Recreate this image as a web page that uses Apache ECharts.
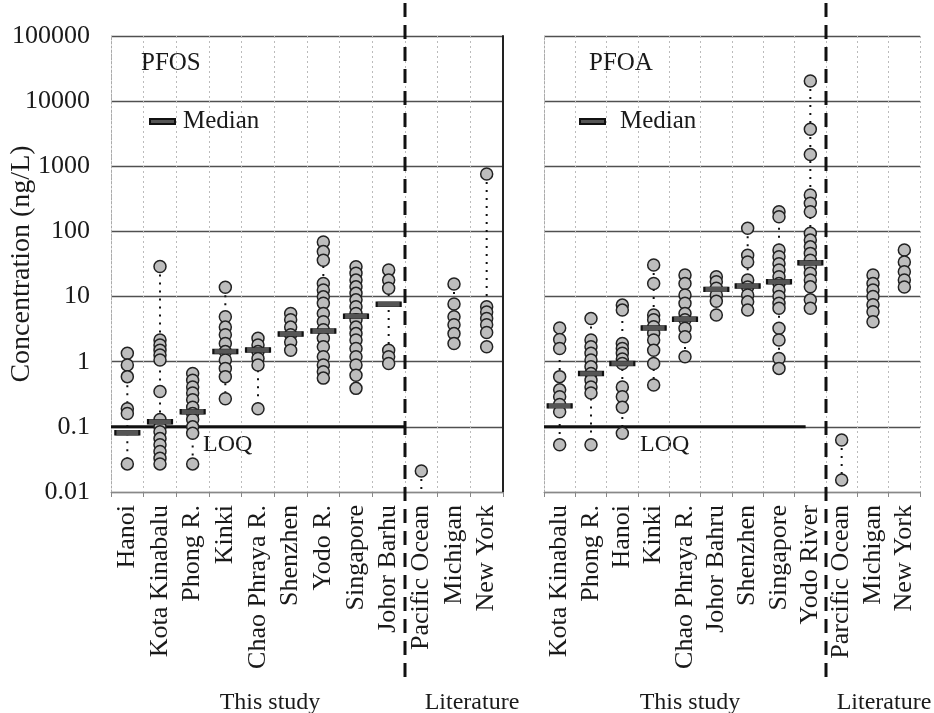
<!DOCTYPE html>
<html><head><meta charset="utf-8">
<script src="https://cdn.jsdelivr.net/npm/echarts@6/dist/echarts.min.js"></script>
<style>html,body{margin:0;padding:0;background:#fff}#c{width:934px;height:713px}</style>
</head><body><div id="c"></div>
<script>
// ---------- DATA ----------
const yTickLabels = ['0.01', '0.1', '1', '10', '100', '1000', '10000', '100000'];
const yMin = 0.01, yMax = 100000;
const LOQ = 0.1;

const pfosCategories = ['Hanoi', 'Kota Kinabalu', 'Phong R.', 'Kinki', 'Chao Phraya R.', 'Shenzhen',
  'Yodo R.', 'Singapore', 'Johor Barhu', 'Pacific Ocean', 'Michigan', 'New York'];
const pfosValues = [
  [1.35, 0.89, 0.59, 0.19, 0.16, 0.027],
  [29, 2.15, 1.8, 1.5, 1.27, 1.06, 0.35, 0.13, 0.1, 0.084, 0.066, 0.053, 0.042, 0.033, 0.027],
  [0.66, 0.52, 0.41, 0.33, 0.26, 0.2, 0.16, 0.13, 0.1, 0.08, 0.027],
  [13.9, 4.9, 3.4, 2.6, 1.9, 1.43, 1.06, 0.79, 0.59, 0.27],
  [2.3, 1.8, 1.43, 1.12, 0.89, 0.19],
  [5.5, 4.4, 3.4, 2.6, 2.0, 1.5],
  [69, 49, 36, 15.9, 12.6, 9.9, 7.9, 5.5, 4.1, 3.1, 2.3, 1.7, 1.19, 0.89, 0.7, 0.56],
  [28.7, 22.8, 17.9, 14.1, 11.2, 8.9, 7.0, 5.5, 4.4, 3.4, 2.7, 2.15, 1.6, 1.19, 0.89, 0.62, 0.39],
  [25.6, 17.9, 13.4, 1.5, 1.19, 0.94],
  [0.021],
  [15.6, 7.7, 4.9, 3.7, 2.7, 1.9],
  [760, 7.0, 5.8, 4.6, 3.7, 2.8, 1.7]
];
const pfosMedians = [0.081, 0.12, 0.17, 1.43, 1.51, 2.66, 2.96, 5.0, 7.6, null, null, null];
const pfosBelowAxis = ['Pacific Ocean'];   // range continues below 0.01

const pfoaCategories = ['Kota Kinabalu', 'Phong R.', 'Hanoi', 'Kinki', 'Chao Phraya R.', 'Johor Bahru',
  'Shenzhen', 'Singapore', 'Yodo River', 'Parcific Ocean', 'Michigan', 'New York'];
const pfoaValues = [
  [3.3, 2.2, 1.6, 0.59, 0.37, 0.29, 0.22, 0.17, 0.053],
  [4.6, 2.15, 1.7, 1.35, 1.06, 0.84, 0.66, 0.52, 0.41, 0.33, 0.053],
  [7.4, 6.2, 1.9, 1.6, 1.35, 1.1, 0.94, 0.41, 0.29, 0.2, 0.08],
  [30.5, 15.9, 5.2, 4.4, 3.45, 2.73, 2.15, 1.5, 0.94, 0.44],
  [21.5, 15.9, 10.6, 7.9, 5.5, 4.4, 3.26, 2.42, 1.19],
  [20.2, 16.9, 13.4, 10.6, 8.5, 5.2],
  [112, 43, 34, 18, 14, 10.6, 8.3, 6.2],
  [200, 168, 52, 41, 32, 25.6, 20.2, 15.9, 12.6, 10, 7.9, 6.6, 3.26, 2.15, 1.12, 0.79],
  [20400, 3700, 1520, 363, 270, 200, 94, 73.6, 58, 46, 36, 28.7, 22.8, 18, 14.1, 8.9, 6.6],
  [0.063, 0.0153],
  [21.5, 15.9, 12.6, 10, 7.5, 5.85, 4.1],
  [52, 34, 24, 18, 14]
];
const pfoaMedians = [0.21, 0.66, 0.94, 3.3, 4.5, 12.9, 14.5, 16.9, 33, null, null, null];
const pfoaBelowAxis = [];

const studyCount = 9; // first 9 categories = "This study"

// ---------- HELPERS ----------
const FONT = 'Liberation Serif';
function pts(vals) { const o = []; vals.forEach((a, i) => a.forEach(v => o.push([i, v]))); return o; }
function med(m) { return m.map((v, i) => v == null ? null : [i, v]).filter(Boolean); }
function ranges(vals, cats, below) {
  return vals.map((a, i) => [i, Math.max(...a), below.includes(cats[i]) ? yMin : Math.min(...a)])
    .filter(r => r[1] !== r[2]);
}
function yLabel(v) { return yTickLabels[Math.round(Math.log10(v)) + 2]; }

const rangeRender = (params, api) => {
  const a = api.coord([api.value(0), api.value(1)]);
  const b = api.coord([api.value(0), api.value(2)]);
  return { type: 'line', shape: { x1: a[0], y1: a[1], x2: b[0], y2: b[1] },
    style: { stroke: '#111', lineWidth: 2, lineDash: [2, 6] } };
};
function loqRender(endFrac) {
  return (params, api) => {
    const bw = api.size([1, 1])[0];
    const a = api.coord([api.value(0), api.value(2)]);
    const b = api.coord([api.value(1), api.value(2)]);
    return { type: 'line', shape: { x1: a[0] - bw / 2, y1: a[1], x2: b[0] + bw * endFrac, y2: b[1] },
      style: { stroke: '#111', lineWidth: 3 } };
  };
}
function sepRender(extraBottom) {
  return (params, api) => {
    const bw = api.size([1, 1])[0];
    const c = api.coord([api.value(0), 1]);
    const cs = params.coordSys;
    const x = c[0] + bw / 2;
    return { type: 'line', shape: { x1: x, y1: cs.y - 33, x2: x, y2: cs.y + cs.height + extraBottom },
      style: { stroke: '#111', lineWidth: 3, lineDash: [14, 8] } };
  };
}

function xAxisCfg(gi, cats) {
  return {
    type: 'category', gridIndex: gi, data: cats, boundaryGap: true,
    axisLine: { lineStyle: { color: '#888' } },
    axisTick: { show: true, interval: 0, length: 5, lineStyle: { color: '#888' } },
    axisLabel: { interval: 0, rotate: 90, margin: 13, fontFamily: FONT, fontSize: 26, color: '#1a1a1a' },
    splitLine: { show: true, interval: 0, lineStyle: { color: '#bbb', type: [2, 3], width: 1 } }
  };
}
function yAxisCfg(gi, showLabels) {
  return {
    type: 'log', logBase: 10, gridIndex: gi, min: yMin, max: yMax,
    name: showLabels ? 'Concentration (ng/L)' : '', nameLocation: 'middle', nameGap: 75,
    nameMoveOverlap: false,
    nameTextStyle: { fontFamily: FONT, fontSize: 28, color: '#1a1a1a' },
    axisLine: { show: true, lineStyle: { color: '#aaa', type: [2, 2] } },
    axisTick: { show: false },
    axisLabel: { show: showLabels, formatter: yLabel, margin: 21, fontFamily: FONT, fontSize: 26, color: '#1a1a1a' },
    splitLine: { show: true, lineStyle: { color: '#505050', width: 1.3 } }
  };
}
function panelSeries(gi, cats, vals, meds, below, loqEndFrac, sepBottom) {
  return [
    { type: 'custom', name: 'range' + gi, xAxisIndex: gi, yAxisIndex: gi, z: 1,
      data: ranges(vals, cats, below), renderItem: rangeRender, encode: { x: 0, y: [1, 2] } },
    { type: 'custom', name: 'LOQ' + gi, xAxisIndex: gi, yAxisIndex: gi, z: 2,
      data: [[0, studyCount - 1, LOQ]], renderItem: loqRender(loqEndFrac), encode: { x: [0, 1], y: 2 } },
    { type: 'scatter', name: 'points' + gi, xAxisIndex: gi, yAxisIndex: gi, z: 3,
      data: pts(vals), symbol: 'circle', symbolSize: 12,
      itemStyle: { color: '#bdbdbd', borderColor: '#222', borderWidth: 1.5, opacity: 1 } },
    { type: 'scatter', name: 'Median', xAxisIndex: gi, yAxisIndex: gi, z: 4,
      data: med(meds), symbol: 'rect', symbolSize: [24, 5],
      itemStyle: { color: '#555', borderColor: '#111', borderWidth: 1, opacity: 1 } },
    { type: 'custom', name: 'sep' + gi, xAxisIndex: gi, yAxisIndex: gi, z: 5, clip: false,
      data: [[studyCount - 1]], renderItem: sepRender(sepBottom), encode: { x: 0 } }
  ];
}

const chart = echarts.init(document.getElementById('c'), null, { renderer: 'canvas' });
chart.setOption({
  animation: false,
  backgroundColor: '#fff',
  grid: [
    { left: 111, top: 36, width: 392, height: 456, containLabel: false, outerBoundsMode: 'none' },
    { left: 544, top: 36, width: 376, height: 456, containLabel: false, outerBoundsMode: 'none' }
  ],
  title: [
    { text: 'PFOS', left: 136, top: 46, textStyle: { fontFamily: FONT, fontSize: 25, fontWeight: 'normal', color: '#1a1a1a' } },
    { text: 'PFOA', left: 584, top: 46, textStyle: { fontFamily: FONT, fontSize: 25, fontWeight: 'normal', color: '#1a1a1a' } }
  ],
  legend: [
    { left: 144, top: 104, data: ['Median'], itemWidth: 25, itemHeight: 5, selectedMode: false,
      textStyle: { fontFamily: FONT, fontSize: 25, color: '#1a1a1a', padding: [0, 0, 0, 3] } },
    { left: 574, top: 104, data: ['Median'], itemWidth: 25, itemHeight: 5, selectedMode: false,
      textStyle: { fontFamily: FONT, fontSize: 25, color: '#1a1a1a', padding: [0, 0, 0, 10] } }
  ],
  xAxis: [xAxisCfg(0, pfosCategories), xAxisCfg(1, pfoaCategories)],
  yAxis: [
    yAxisCfg(0, true), yAxisCfg(1, false),
    { type: 'value', gridIndex: 0, position: 'right', min: 0, max: 1,
      axisLine: { show: true, lineStyle: { color: '#222', width: 2 } },
      axisTick: { show: false }, axisLabel: { show: false }, splitLine: { show: false } }
  ],
  series: [
    ...panelSeries(0, pfosCategories, pfosValues, pfosMedians, pfosBelowAxis, 0.5, 188),
    ...panelSeries(1, pfoaCategories, pfoaValues, pfoaMedians, pfoaBelowAxis, -0.15, 188)
  ],
  graphic: [
    { type: 'text', left: 203, top: 433, style: { text: 'LOQ', font: '24px "Liberation Serif"', fill: '#1a1a1a' } },
    { type: 'text', left: 640, top: 433, style: { text: 'LOQ', font: '24px "Liberation Serif"', fill: '#1a1a1a' } },
    { type: 'text', x: 270, y: 703, style: { text: 'This study', font: '24px "Liberation Serif"', fill: '#1a1a1a', align: 'center', verticalAlign: 'middle' } },
    { type: 'text', x: 472, y: 703, style: { text: 'Literature', font: '24px "Liberation Serif"', fill: '#1a1a1a', align: 'center', verticalAlign: 'middle' } },
    { type: 'text', x: 690, y: 703, style: { text: 'This study', font: '24px "Liberation Serif"', fill: '#1a1a1a', align: 'center', verticalAlign: 'middle' } },
    { type: 'text', x: 884, y: 703, style: { text: 'Literature', font: '24px "Liberation Serif"', fill: '#1a1a1a', align: 'center', verticalAlign: 'middle' } }
  ]
});
</script></body></html>
